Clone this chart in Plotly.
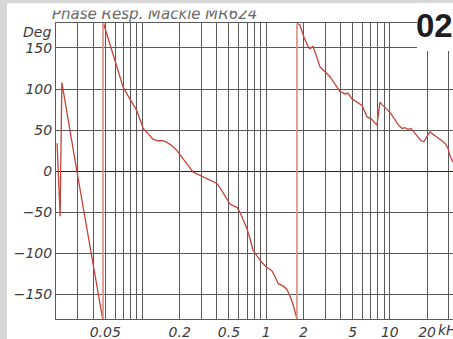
import plotly.graph_objects as go

W, H = 453, 339

# ---- data (frequency in kHz, phase in degrees) ----
seg1_f = [0.0204, 0.0216, 0.0223, 0.0295, 0.0477]
seg1_p = [34, -55, 108, 0, -180]

seg2_f = [0.04839, 0.05262, 0.05775, 0.06334, 0.06995, 0.07633, 0.0838, 0.08977,
          0.1015, 0.1108, 0.1216, 0.1335, 0.1464, 0.1578, 0.1732, 0.1901, 0.2086,
          0.2289, 0.2560, 0.2810, 0.3083, 0.3384, 0.3714, 0.4001, 0.4231, 0.4474,
          0.4732, 0.5097, 0.5390, 0.5807, 0.6141, 0.6494, 0.6996, 0.7397, 0.7822,
          0.8426, 0.9077, 1.009, 1.108, 1.178, 1.253, 1.375, 1.473, 1.557, 1.647, 1.774]
seg2_p = [180, 162, 144, 125, 102, 92, 82, 74,
          52, 45, 39, 37, 37, 35, 31, 25, 17,
          10, -1, -4, -7, -9, -12, -15, -20, -26,
          -33, -40, -42, -44, -50, -59, -70, -82, -96,
          -103, -110, -117, -121, -128, -137, -140, -144, -152, -162, -180]

seg3_f = [1.774, 1.876, 2.021, 2.177, 2.260, 2.389, 2.527, 2.722, 2.988, 3.280,
          3.599, 3.951, 4.335, 4.585, 4.939, 5.420, 5.951, 6.292, 6.531, 7.036,
          7.438, 7.865, 8.088, 8.318, 8.633, 8.961, 9.652, 10.21, 10.79, 11.63,
          12.53, 13.25, 14.01, 14.81, 15.96, 16.87, 17.84, 18.87, 19.95, 21.10,
          22.31, 24.03, 25.89, 27.89, 29.49, 30.61, 32.37]
seg3_p = [180, 178, 163, 152, 149, 152, 142, 127, 121, 115,
          106, 97, 94, 95, 88, 84, 80, 72, 66, 64,
          60, 56, 70, 84, 81, 79, 74, 70, 64, 57,
          52, 53, 51, 52, 46, 42, 37, 36, 42, 48,
          45, 42, 38, 34, 28, 19, 11]

wrap_f = [0.0480, 1.774]

x_ticks = [0.02, 0.03, 0.04, 0.05, 0.06, 0.07, 0.08, 0.09,
           0.1, 0.2, 0.3, 0.4, 0.5, 0.6, 0.7, 0.8, 0.9,
           1, 2, 3, 4, 5, 6, 7, 8, 9, 10, 20, 30]
x_labels = {0.05: "0.05", 0.2: "0.2", 0.5: "0.5", 1: "1", 2: "2", 5: "5", 10: "10", 20: "20"}
y_ticks = [-150, -100, -50, 0, 50, 100, 150]

title_text = "Phase Resp. Mackie MR624"
badge_text = "02"

# ---- layout geometry helpers (pixels -> paper) ----
def px(x):
    return x / W

def py(y):
    return (H - y) / H

RED = "#c4443a"
GRID = "#595959"
TXT = "#3c3c3c"
font_it = dict(family="DejaVu Sans", size=14, color=TXT, style="italic")

fig = go.Figure()

fig.add_trace(go.Scatter(x=seg1_f + [None] + seg2_f + [None] + seg3_f,
                         y=seg1_p + [None] + seg2_p + [None] + seg3_p,
                         mode="lines", line=dict(color=RED, width=1.3),
                         connectgaps=False, showlegend=False, hoverinfo="skip"))

wx, wy = [], []
for f in wrap_f:
    wx += [f, f, None]
    wy += [-180, 180, None]
fig.add_trace(go.Scatter(x=wx, y=wy, mode="lines",
                         line=dict(color="#dc8b80", width=1.6),
                         showlegend=False, hoverinfo="skip"))

# clipped title (drawn in its own small subplot so its top is cut off)
fig.add_trace(go.Scatter(x=[52], y=[8.2], mode="text", text=[title_text],
                         textposition="middle right",
                         textfont=dict(family="DejaVu Sans", size=15, color="#6a6a6a", style="italic"),
                         xaxis="x2", yaxis="y2", cliponaxis=True,
                         showlegend=False, hoverinfo="skip"))

x_lo, x_hi = -1.69897, -1.69897 + 397 / 123.7

fig.update_layout(
    width=W, height=H,
    margin=dict(l=0, r=0, t=0, b=0),
    paper_bgcolor="white", plot_bgcolor="white",
    xaxis=dict(type="log", range=[x_lo, x_hi], domain=[px(56), 1],
               tickvals=x_ticks, ticktext=[x_labels.get(v, "") for v in x_ticks],
               showgrid=True, gridcolor=GRID, gridwidth=1,
               showline=True, linecolor=GRID, linewidth=1, mirror=True,
               ticks="", tickfont=font_it, zeroline=False, anchor="y"),
    yaxis=dict(range=[-180, 180], domain=[py(319), py(23.3)],
               tickvals=y_ticks, ticktext=[str(v).replace("-", "\u2212") for v in y_ticks],
               showgrid=True, gridcolor=GRID, gridwidth=1,
               zeroline=True, zerolinecolor="#222222", zerolinewidth=1,
               showline=True, linecolor=GRID, linewidth=1, mirror=False,
               ticks="", tickfont=font_it, anchor="x"),
    xaxis2=dict(range=[0, W], domain=[0, 1], visible=False, anchor="y2", fixedrange=True),
    yaxis2=dict(range=[0, 12.5], domain=[py(23), py(10.5)], visible=False, anchor="x2", fixedrange=True),
    shapes=[
        dict(type="rect", xref="paper", yref="paper", x0=0, x1=1, y0=py(3.3), y1=1,
             fillcolor="#d7d7d7", line=dict(width=0), layer="above"),
        dict(type="rect", xref="paper", yref="paper", x0=0, x1=px(7), y0=0, y1=1,
             fillcolor="#d7d7d7", line=dict(width=0), layer="above"),
        dict(type="rect", xref="paper", yref="paper", x0=px(417), x1=1, y0=py(51), y1=py(3.3),
             fillcolor="white", line=dict(width=0), layer="above"),
    ],
    annotations=[
        dict(text="Deg", xref="paper", yref="paper", x=px(53), y=py(32.5),
             xanchor="right", yanchor="middle", showarrow=False, font=font_it),
        dict(text="kHz", xref="paper", yref="paper", x=px(436), y=py(330),
             xanchor="left", yanchor="middle", showarrow=False, font=font_it),
        dict(text="<b>" + badge_text + "</b>", xref="paper", yref="paper", x=px(455), y=py(26),
             xanchor="right", yanchor="middle", showarrow=False,
             font=dict(family="Liberation Sans", size=33, color="#1e1e1e")),
    ],
)

fig.write_html("out.html")
